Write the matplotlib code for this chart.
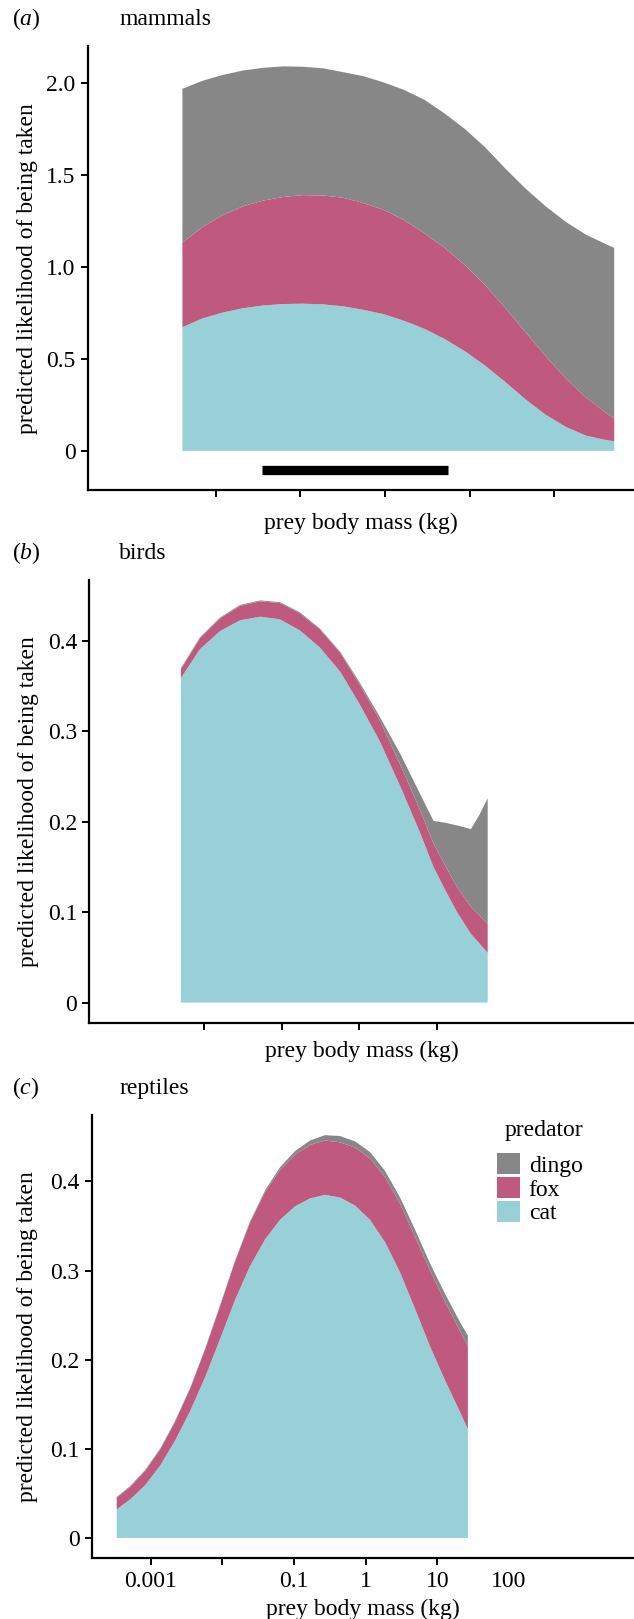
import matplotlib
matplotlib.use('Agg')
import matplotlib.pyplot as plt
import matplotlib.patches as mpatches

plt.rcParams['font.family'] = 'Liberation Serif'
plt.rcParams['mathtext.fontset'] = 'custom'
plt.rcParams['mathtext.rm'] = 'Liberation Serif'
plt.rcParams['mathtext.it'] = 'Liberation Serif:italic'

col_dingo = '#878787'
col_fox = '#bf5a7e'
col_cat = '#97d1d7'

# (a) mammals
mass_a = [0.00404, 0.00692, 0.0120, 0.0208, 0.0361, 0.0627, 0.108, 0.188, 0.326, 0.565, 0.980, 1.70,
          2.94, 5.11, 8.85, 15.3, 26.6, 46.1, 80.0, 139, 240, 417, 513]
cat_a = [0.672, 0.719, 0.751, 0.775, 0.790, 0.798, 0.800, 0.796, 0.785, 0.766, 0.742, 0.706,
         0.663, 0.607, 0.541, 0.463, 0.373, 0.279, 0.195, 0.129, 0.082, 0.058, 0.052]
fox_a = [0.459, 0.496, 0.530, 0.553, 0.570, 0.582, 0.590, 0.592, 0.590, 0.580, 0.567, 0.547,
         0.519, 0.496, 0.468, 0.438, 0.402, 0.365, 0.318, 0.262, 0.206, 0.146, 0.124]
dingo_a = [0.837, 0.796, 0.762, 0.739, 0.722, 0.710, 0.698, 0.691, 0.683, 0.690, 0.693, 0.708,
           0.726, 0.730, 0.740, 0.749, 0.759, 0.781, 0.815, 0.852, 0.886, 0.918, 0.927]
cwr = [0.035, 5.5]  # critical weight range (kg)

# (b) birds
mass_b = [0.0050, 0.0088, 0.016, 0.029, 0.053, 0.095, 0.17, 0.31, 0.57, 1.0, 1.85, 3.4,
          6.1, 9.1, 12.8, 18.3, 27.7, 35.2, 45.5]
cat_b = [0.359, 0.391, 0.411, 0.423, 0.427, 0.424, 0.412, 0.393, 0.366, 0.331, 0.289, 0.239,
         0.188, 0.150, 0.125, 0.100, 0.076, 0.066, 0.055]
fox_b = [0.010, 0.012, 0.014, 0.016, 0.017, 0.018, 0.019, 0.020, 0.021, 0.022, 0.023, 0.024,
         0.025, 0.026, 0.027, 0.028, 0.030, 0.031, 0.032]
dingo_b = [0.001, 0.001, 0.001, 0.001, 0.001, 0.001, 0.001, 0.001, 0.001, 0.002, 0.004, 0.012,
           0.018, 0.025, 0.047, 0.068, 0.086, 0.110, 0.139]

# (c) reptiles
mass_c = [0.000335, 0.000514, 0.000832, 0.00135, 0.00218, 0.00353, 0.00572, 0.00927, 0.0150,
          0.0243, 0.0394, 0.0638, 0.103, 0.167, 0.271, 0.439, 0.711, 1.15, 1.86, 3.02, 4.89,
          7.91, 12.8, 20.8, 26.7]
cat_c = [0.032, 0.043, 0.059, 0.081, 0.109, 0.142, 0.180, 0.223, 0.267, 0.305, 0.335, 0.357,
         0.372, 0.381, 0.385, 0.382, 0.373, 0.357, 0.332, 0.298, 0.257, 0.215, 0.177, 0.141, 0.122]
fox_c = [0.013, 0.014, 0.016, 0.018, 0.021, 0.025, 0.031, 0.037, 0.043, 0.049, 0.053, 0.056,
         0.058, 0.060, 0.061, 0.062, 0.065, 0.069, 0.073, 0.077, 0.081, 0.085, 0.088, 0.091, 0.093]
dingo_c = [0.001, 0.001, 0.001, 0.001, 0.001, 0.001, 0.001, 0.001, 0.001, 0.001, 0.002, 0.003,
           0.004, 0.005, 0.006, 0.007, 0.007, 0.007, 0.007, 0.007, 0.008, 0.008, 0.009, 0.010, 0.012]

ylab = 'predicted likelihood of being taken'
xlab = 'prey body mass (kg)'
fs = 17

W, H = 634.0, 1619.0
fig = plt.figure(figsize=(W / 100, H / 100), dpi=100)


def px_rect(left, top, bottom):
    return [left / W, 1 - bottom / H, 1 - left / W, (bottom - top) / H]


def panel(rect, mass, cat, fox, dingo, xlim, ylim, xticks, xlabels, yticks, ylabels, xlab_y, ylab_x):
    ax = fig.add_axes(rect)
    ax.stackplot(mass, cat, fox, dingo, colors=[col_cat, col_fox, col_dingo], linewidth=0)
    ax.set_xscale('log')
    ax.set_xlim(xlim)
    ax.set_ylim(ylim)
    ax.minorticks_off()
    ax.set_xticks(xticks)
    ax.set_xticklabels(xlabels)
    ax.set_yticks(yticks)
    ax.set_yticklabels(ylabels)
    for s in ['top', 'right']:
        ax.spines[s].set_visible(False)
    for s in ['left', 'bottom']:
        ax.spines[s].set_linewidth(1.6)
    ax.tick_params(direction='out', length=4.8, width=1.4, labelsize=fs, pad=4, colors='black')
    ax.set_xlabel(xlab, fontsize=fs)
    ax.xaxis.set_label_coords(0.5, xlab_y)
    ax.xaxis.label.set_va('center')
    ax.set_ylabel(ylab, fontsize=fs)
    ax.yaxis.set_label_coords(ylab_x, 0.5)
    ax.yaxis.label.set_va('center')
    return ax


ax_a = panel(px_rect(87.7, 46.5, 490), mass_a, cat_a, fox_a, dingo_a,
             (0.000307, 879), (-0.213, 2.198),
             [0.01, 0.1, 1, 10, 100], [''] * 5,
             [0, 0.5, 1.0, 1.5, 2.0], ['0', '0.5', '1.0', '1.5', '2.0'],
             -0.0753, -0.111)
ax_a.plot(cwr, [-0.103, -0.103], color='black', lw=6.7, solid_capstyle='butt')

ax_b = panel(px_rect(89.3, 579.6, 1023.1), mass_b, cat_b, fox_b, dingo_b,
             (0.000329, 3516), (-0.0227, 0.468),
             [0.01, 0.1, 1, 10], [''] * 4,
             [0, 0.1, 0.2, 0.3, 0.4], ['0', '0.1', '0.2', '0.3', '0.4'],
             -0.0638, -0.1125)

ax_c = panel(px_rect(91.7, 1115.1, 1558.3), mass_c, cat_c, fox_c, dingo_c,
             (0.000150, 5559), (-0.0229, 0.4745),
             [0.001, 0.01, 0.1, 1, 10, 100], ['0.001', '', '0.1', '1', '10', '100'],
             [0, 0.1, 0.2, 0.3, 0.4], ['0', '0.1', '0.2', '0.3', '0.4'],
             -0.1153, -0.1175)
ax_c.xaxis.get_major_ticks()[-1].tick1line.set_visible(False)

# legend
handles = [mpatches.Patch(facecolor=col_dingo, edgecolor='none', label='dingo'),
           mpatches.Patch(facecolor=col_fox, edgecolor='none', label='fox'),
           mpatches.Patch(facecolor=col_cat, edgecolor='none', label='cat')]
ax_c.legend(handles=handles, loc='upper left', bbox_to_anchor=(496.6 / W, 1 - 1153.3 / H),
            bbox_transform=fig.transFigure, frameon=False, fontsize=fs,
            handlelength=1.0, handleheight=1.0, handletextpad=0.36, labelspacing=0.0,
            borderpad=0, borderaxespad=0)
fig.text(543.9 / W, 1 - 1130.9 / H, 'predator', fontsize=fs, ha='center', va='center')

# panel titles
for y, tag, name in [(24.8, '(a)', 'mammals'), (558.9, '(b)', 'birds'), (1093.8, '(c)', 'reptiles')]:
    fig.text(12 / W, 1 - y / H, '(' + '$' + tag[1] + '$' + ')', fontsize=fs, va='baseline')
    fig.text(119.3 / W, 1 - y / H, name, fontsize=fs, va='baseline')

fig.savefig('out.png', dpi=100)
